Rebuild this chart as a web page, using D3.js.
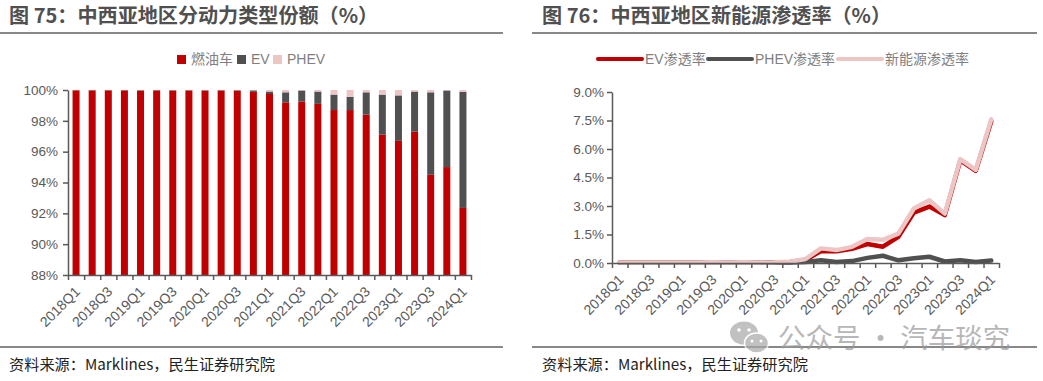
<!DOCTYPE html>
<html>
<head>
<meta charset="utf-8">
<script src="https://cdn.jsdelivr.net/npm/d3@7/dist/d3.min.js"></script>
<style>
html, body { margin: 0; padding: 0; background: #fff; }
svg { display: block; }
text { font-family: "Liberation Sans", "Noto Sans CJK SC", sans-serif; }
.cjk { font-family: "Noto Sans CJK SC", sans-serif; }
.axis path, .axis line { stroke: #595959; stroke-width: 1.5; }
.axis text { fill: #595959; font-size: 13.5px; }
.labels text { font-size: 14px; }
</style>
</head>
<body>
<div id="chart"></div>
<script>
var quarters = ["2018Q1","2018Q2","2018Q3","2018Q4","2019Q1","2019Q2","2019Q3","2019Q4","2020Q1","2020Q2","2020Q3","2020Q4","2021Q1","2021Q2","2021Q3","2021Q4","2022Q1","2022Q2","2022Q3","2022Q4","2023Q1","2023Q2","2023Q3","2023Q4","2024Q1"];

// share of each powertrain (%)
var fuelShare = [99.98,99.98,99.98,99.98,99.96,99.98,99.97,99.97,99.96,99.97,99.96,99.88,99.74,99.2,99.25,99.1,98.7,98.7,98.4,97.1,96.7,97.3,94.5,95.0,92.35];
var evShare = [0.01,0.01,0.01,0.01,0.03,0.01,0.02,0.02,0.03,0.02,0.03,0.1,0.16,0.65,0.72,0.8,1.0,0.85,1.45,2.6,2.95,2.6,5.35,4.97,7.53];
var phevShare = [0.01,0.01,0.01,0.01,0.01,0.01,0.01,0.01,0.01,0.01,0.01,0.02,0.1,0.15,0.03,0.1,0.3,0.45,0.15,0.3,0.35,0.1,0.15,0.03,0.12];

// penetration rates (%)
var evRate = [0.02,0.02,0.02,0.02,0.02,0.02,0.03,0.02,0.03,0.02,0.03,0.05,0.16,0.63,0.62,0.75,1.0,0.86,1.38,2.65,2.97,2.52,5.4,4.85,7.45];
var phevRate = [0.01,0.01,0.01,0.01,0.01,0.01,0.01,0.01,0.01,0.01,0.01,0.02,0.05,0.15,0.05,0.1,0.27,0.38,0.14,0.25,0.33,0.08,0.15,0.05,0.13];
var nevRate = [0.03,0.03,0.03,0.03,0.03,0.03,0.04,0.03,0.04,0.03,0.04,0.07,0.21,0.77,0.68,0.85,1.26,1.22,1.55,2.87,3.3,2.6,5.47,4.9,7.56];

var shareTicks = [88,90,92,94,96,98,100];
var rateTicks = [0,1.5,3,4.5,6,7.5,9];

var barNames = ["燃油车","EV","PHEV"];
var lineNames = ["EV渗透率","PHEV渗透率","新能源渗透率"];
var red = "#c00000", dark = "#505050", pink = "#ecc5c5";

var w = 1043, h = 381;
var svg = d3.select("#chart").append("svg").attr("width", w).attr("height", h);

// titles, rules, sources
function frame(x1, x2, title, titleX) {
	svg.append("text").attr("class", "cjk").attr("x", titleX).attr("y", 23)
		.attr("font-size", "20.1px").attr("font-weight", 700).attr("fill", "#505050")
		.attr("xml:space", "preserve").text(title);
	[33, 347].forEach(function(y) {
		svg.append("line").attr("x1", x1).attr("x2", x2).attr("y1", y).attr("y2", y)
			.attr("stroke", "#606060").attr("stroke-width", 1.5);
	});
	svg.append("text").attr("class", "cjk").attr("x", titleX).attr("y", 370)
		.attr("font-size", "15.2px").attr("fill", "#222").text("资料来源：Marklines，民生证券研究院");
}
frame(0, 503, "图 75：中西亚地区分动力类型份额（%）", 9);
frame(532, 1037, "图 76：中西亚地区新能源渗透率（%）", 542);

function xAxis(x0, x1, y) {
	var band = d3.scaleBand().domain(quarters).range([x0, x1]);
	var edge = d3.scaleLinear().domain([0, quarters.length]).range([x0, x1]);
	svg.append("g").attr("class", "axis").attr("transform", "translate(0," + y + ")")
		.call(d3.axisBottom(edge).tickValues(d3.range(quarters.length + 1)).tickSize(5).tickSizeOuter(0).tickFormat(""));
	svg.append("g").attr("class", "axis labels").attr("transform", "translate(0," + y + ")")
		.call(d3.axisBottom(band).tickSize(0).tickValues(quarters.filter(function(d, i) { return i % 2 == 0; })))
		.call(function(g) { g.select(".domain").remove(); })
		.selectAll("text")
		.attr("x", -9).attr("y", 11).attr("dy", ".35em")
		.attr("transform", "rotate(-45)")
		.style("text-anchor", "end");
	return band;
}

// left chart: stacked bars
var yShare = d3.scaleLinear().domain([88, 100]).range([275, 90]);
var rows = quarters.map(function(q, i) { return { q: q, fuel: fuelShare[i], ev: evShare[i], phev: phevShare[i] }; });
var stack = d3.stack().keys(["fuel","ev","phev"])(rows);
var xBar = d3.scaleBand().domain(quarters).range([68, 471]);
var barColor = d3.scaleOrdinal().domain(["fuel","ev","phev"]).range([red, dark, pink]);

svg.selectAll(".layer").data(stack).enter().append("g").attr("class", "layer")
	.attr("fill", function(d) { return barColor(d.key); })
	.selectAll("rect").data(function(d) { return d; }).enter().append("rect")
	.attr("x", function(d) { return xBar(d.data.q) + xBar.bandwidth() / 2 - 3.5; })
	.attr("width", 7)
	.attr("y", function(d) { return yShare(Math.min(d[1], 100)); })
	.attr("height", function(d) { return yShare(Math.max(d[0], 88)) - yShare(Math.min(d[1], 100)); });

svg.append("g").attr("class", "axis").attr("transform", "translate(68,0)")
	.call(d3.axisLeft(yShare).tickValues(shareTicks).tickSize(5).tickPadding(5).tickSizeOuter(0).tickFormat(function(d) { return d + "%"; }));
xAxis(68, 471, 275);

// left legend
var barLegendX = [177, 237, 273];
barNames.forEach(function(name, i) {
	svg.append("rect").attr("x", barLegendX[i]).attr("y", 55).attr("width", 9).attr("height", 9)
		.attr("fill", [red, dark, pink][i]);
	svg.append("text").attr("x", barLegendX[i] + 14).attr("y", 64)
		.attr("font-size", "14px").attr("fill", "#7f7f7f").text(name);
});

// right chart: lines
var yRate = d3.scaleLinear().domain([0, 9]).range([263, 92]);
var xLine = d3.scaleBand().domain(quarters).range([612, 999]);
var line = d3.line()
	.x(function(d, i) { return xLine(quarters[i]) + xLine.bandwidth() / 2; })
	.y(function(d) { return yRate(d); });

var rateSeries = [evRate, phevRate, nevRate];
var rateColors = [red, dark, pink];
svg.selectAll(".rate").data(rateSeries).enter().append("path").attr("class", "rate")
	.attr("d", line).attr("fill", "none")
	.attr("stroke", function(d, i) { return rateColors[i]; })
	.attr("stroke-width", 4.5).attr("stroke-linecap", "round").attr("stroke-linejoin", "round");

svg.append("g").attr("class", "axis").attr("transform", "translate(612,0)")
	.call(d3.axisLeft(yRate).tickValues(rateTicks).tickSize(5).tickSizeOuter(0).tickFormat(function(d) { return d.toFixed(1) + "%"; }));
xAxis(612, 999, 263);

// right legend
var lineLegendX = [598, 708, 838];
lineNames.forEach(function(name, i) {
	svg.append("line").attr("x1", lineLegendX[i]).attr("x2", lineLegendX[i] + 44).attr("y1", 59).attr("y2", 59)
		.attr("stroke", rateColors[i]).attr("stroke-width", 4).attr("stroke-linecap", "round");
	svg.append("text").attr("x", lineLegendX[i] + 47).attr("y", 64)
		.attr("font-size", "14px").attr("fill", "#7f7f7f").text(name);
});

// watermark
var mark = svg.append("g").attr("opacity", 0.7);
mark.append("ellipse").attr("cx", 744).attr("cy", 333).attr("rx", 14).attr("ry", 11.5).attr("fill", "#a8a8a8");
mark.append("ellipse").attr("cx", 756.5).attr("cy", 343).attr("rx", 12).attr("ry", 10).attr("fill", "#a8a8a8").attr("stroke", "#fff").attr("stroke-width", 1.5);
[[739,330,1.8],[749,330,1.8],[752,341,1.5],[761,341,1.5]].forEach(function(e) {
	mark.append("circle").attr("cx", e[0]).attr("cy", e[1]).attr("r", e[2]).attr("fill", "#fff");
});
mark.append("text").attr("class", "cjk").attr("x", 778).attr("y", 348)
	.attr("font-size", "27.5px").attr("fill", "#9a9a9a").text("公众号 · 汽车琰究");
</script>
</body>
</html>
